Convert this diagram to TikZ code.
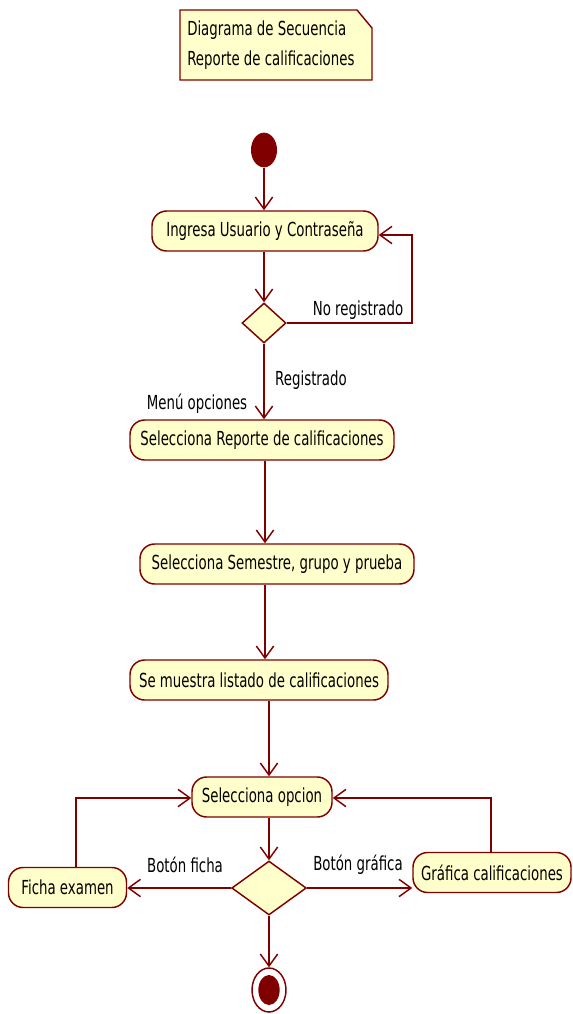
\documentclass[tikz,border=0pt]{standalone}
\usepackage{fontspec}
\setmainfont[FakeStretch=0.69]{DejaVu Sans}
\usetikzlibrary{arrows.meta,shapes.geometric}
\definecolor{umlline}{RGB}{128,0,0}
\definecolor{umlfill}{RGB}{255,255,204}
\begin{document}
\begin{tikzpicture}[x=0.75pt,y=-0.75pt,
  every node/.style={font=\fontsize{14.5pt}{16pt}\selectfont},
  action/.style={draw=umlline, fill=umlfill, line width=1.1pt, rounded corners=11pt,
    inner sep=0pt, minimum height=30pt, minimum width=#1*0.75pt},
  decision/.style={diamond, draw=umlline, fill=umlfill, line width=1.1pt, inner sep=0pt},
  flow/.style={draw=umlline, line width=1.1pt, -{Straight Barb[length=9pt,width=13pt,line width=1.1pt]}},
  lbl/.style={inner sep=0pt}]
\useasboundingbox (0,0) rectangle (573,1014);

% note with folded corner
\draw[draw=umlline, fill=umlfill, line width=1.1pt]
  (180,10) -- (357,10) -- (372,28) -- (372,80) -- (180,80) -- cycle;
\node[lbl, anchor=west, align=left, font=\fontsize{14.5pt}{22.5pt}\selectfont] (note) at (187,45)
  {Diagrama de Secuencia\\Reporte de calificaciones};

% initial node
\node[ellipse, fill=umlline, inner sep=0pt, minimum width=19.5pt, minimum height=26pt] (start) at (264,150) {};

% actions
\node[action=226] (a1) at (265,231) {Ingresa Usuario y Contraseña};
\node[decision, minimum width=33pt, minimum height=30pt] (d1) at (264,323) {};
\node[action=264] (a2) at (262,440) {Selecciona Reporte de calificaciones};
\node[action=274] (a3) at (277,564) {Selecciona Semestre, grupo y prueba};
\node[action=258] (a4) at (259,680) {Se muestra listado de calificaciones};
\node[action=140] (a5) at (262,797) {Selecciona opcion};
\node[decision, minimum width=56pt, minimum height=40.5pt] (d2) at (269,888) {};
\node[action=118] (fe) at (67.5,887.5) {Ficha examen};
\node[action=158] (gc) at (492,872.5) {Gráfica calificaciones};

% final node
\node[ellipse, draw=umlline, fill=white, line width=1.1pt, inner sep=0pt,
  minimum width=25.5pt, minimum height=33pt] (end) at (269,990) {};
\node[ellipse, fill=umlline, inner sep=0pt, minimum width=16pt, minimum height=22.5pt] (endin) at (end) {};

% labels
\node[lbl] (lnr) at (358,310) {No registrado};
\node[lbl] (lr) at (311,380) {Registrado};
\node[lbl] (lmo) at (197,404) {Menú opciones};
\node[lbl] (lbf) at (185,865) {Botón ficha};
\node[lbl] (lbg) at (358,865) {Botón gráfica};

% flows
\coordinate (r1) at (412,235);
\coordinate (l5) at (76,798);
\coordinate (r5) at (491,798);
\draw[flow] (start) -- (start |- a1.north);
\draw[flow] (d1 |- a1.south) -- (d1.north);
\draw[flow] (d1.east) -- (d1.east -| r1) -- (r1) -- (a1.east |- r1);
\draw[flow] (d1.south) -- (d1.south |- a2.north);
\draw[flow] ([xshift=2.25pt]a2.south) -- ([xshift=-9pt]a3.north);
\draw[flow] ([xshift=-9pt]a3.south) -- ([xshift=4.5pt]a4.north);
\draw[flow] ([xshift=7.5pt]a4.south) -- ([xshift=5.25pt]a5.north);
\draw[flow] (d2.north |- a5.south) -- (d2.north);
\draw[flow] (d2.west) -- (d2.west -| fe.east);
\draw[flow] (l5 |- fe.north) -- (l5) -- (l5 -| a5.west);
\draw[flow] (d2.east) -- (d2.east -| gc.west);
\draw[flow] (r5 |- gc.north) -- (r5) -- (r5 -| a5.east);
\draw[flow] (d2.south) -- (end.north);
\end{tikzpicture}
\end{document}
